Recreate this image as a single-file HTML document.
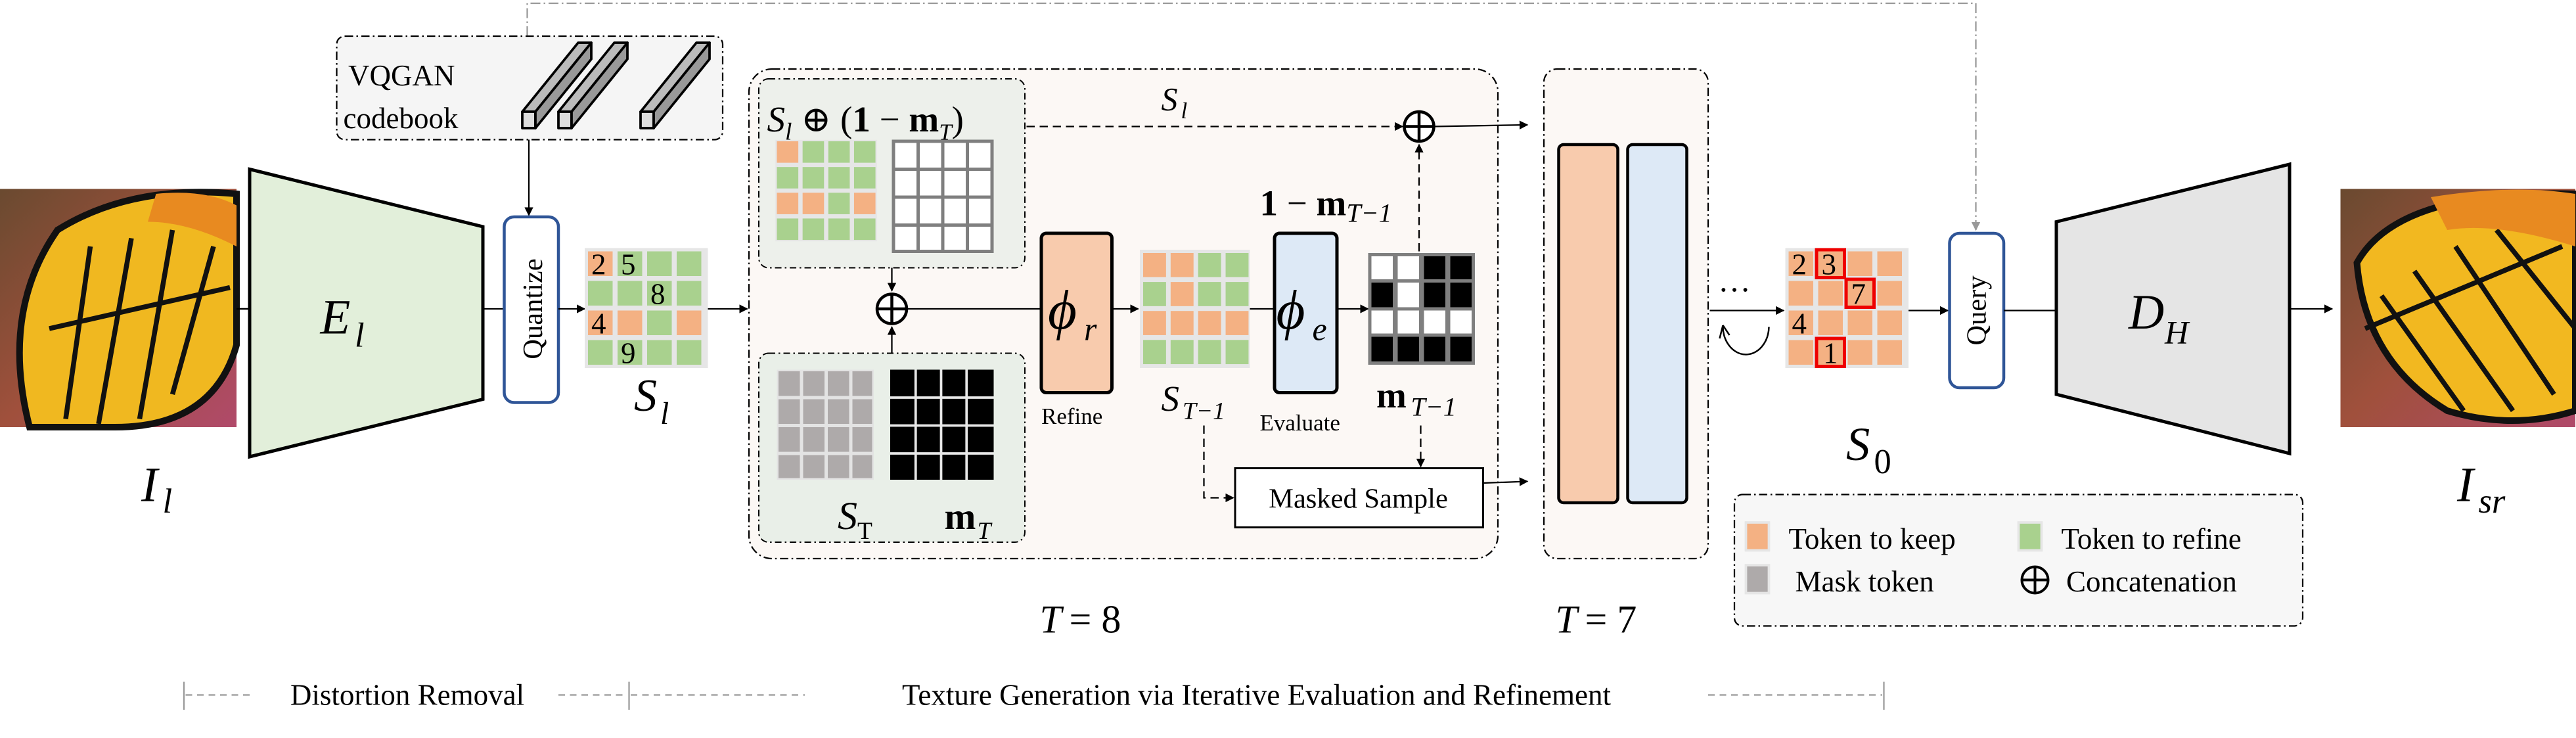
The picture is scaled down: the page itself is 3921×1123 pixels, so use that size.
<!DOCTYPE html>
<html><head><meta charset="utf-8"><style>html,body{margin:0;padding:0;background:#fff}svg{display:block}svg text,svg tspan{font-family:"Liberation Serif","Times New Roman","DejaVu Serif",serif}</style></head>
<body>
<svg width="3921" height="1123" viewBox="0 0 1568.4 449.2" xmlns="http://www.w3.org/2000/svg" style="font-family:'Liberation Serif','Times New Roman',serif">
<defs>
<marker id="ar" viewBox="0 0 10 10" refX="9" refY="5" markerWidth="6" markerHeight="6" orient="auto"><path d="M0,0L10,5L0,10z" fill="#000"/></marker>
<marker id="arg" viewBox="0 0 10 10" refX="9" refY="5" markerWidth="6" markerHeight="6" orient="auto"><path d="M0,0L10,5L0,10z" fill="#999"/></marker>
<g id="o"><rect width="15" height="15" fill="#f4b183"/></g>
<g id="g"><rect width="15" height="15" fill="#a9d18e"/></g>
<linearGradient id="bf" x1="0" y1="0" x2="1" y2="1"><stop offset="0" stop-color="#6a4a30"/><stop offset="0.5" stop-color="#a0503c"/><stop offset="1" stop-color="#b04a6a"/></linearGradient>
</defs>

<path d="M321,22V2H1203V140" fill="none" stroke="#999" stroke-width="0.9" stroke-dasharray="6,2,1,2" marker-end="url(#arg)"/>

<rect x="205" y="22" width="235" height="63" rx="5" fill="#f5f5f5" stroke="#000" stroke-width="0.9" stroke-dasharray="5,2,1,2"/>
<text x="212" y="52" font-size="18">VQGAN</text>
<text x="209" y="78" font-size="18">codebook</text>
<g stroke="#000" stroke-width="1.5" stroke-linejoin="round">
<path d="M318,68l34,-42h8l-34,42z" fill="#bbb"/><rect x="318" y="68" width="8" height="10" fill="#ddd"/><path d="M326,68l34,-42v10l-34,42z" fill="#999"/>
<path d="M340,68l34,-42h8l-34,42z" fill="#bbb"/><rect x="340" y="68" width="8" height="10" fill="#ddd"/><path d="M348,68l34,-42v10l-34,42z" fill="#999"/>
<path d="M390,68l34,-42h8l-34,42z" fill="#bbb"/><rect x="390" y="68" width="8" height="10" fill="#ddd"/><path d="M398,68l34,-42v10l-34,42z" fill="#999"/>
</g>
<line x1="322" y1="85" x2="322" y2="131" stroke="#000" stroke-width="0.9" marker-end="url(#ar)"/>

<g>
<rect x="0" y="115" width="144" height="145" fill="url(#bf)"/>
<path d="M18,260 Q0,190 35,140 Q80,112 144,118 L144,210 Q130,260 70,260z" fill="#f0b820" stroke="#111" stroke-width="4"/>
<path d="M40,255L55,150M60,258L80,145M85,255L105,140M105,240L130,150M30,200L140,175" stroke="#111" stroke-width="3" fill="none"/>
<path d="M95,118 Q125,115 144,125 L144,150 Q115,135 90,135z" fill="#e88a20"/>
</g>
<text x="86" y="305" font-size="30" font-style="italic">I</text><text x="99" y="312" font-size="21" font-style="italic">l</text>
<line x1="144" y1="188" x2="153" y2="188" stroke="#000"/>

<path d="M152,103L294,138V243L152,278z" fill="#e2efda" stroke="#000" stroke-width="2"/>
<text x="195" y="203" font-size="30" font-style="italic">E</text><text x="216" y="211" font-size="21" font-style="italic">l</text>
<line x1="294" y1="188" x2="307" y2="188" stroke="#000" stroke-width="0.9"/>

<rect x="307" y="132" width="33" height="113" rx="6" fill="#fff" stroke="#2f5597" stroke-width="1.8"/>
<text transform="translate(330,188) rotate(-90)" font-size="17" text-anchor="middle">Quantize</text>
<line x1="340" y1="188" x2="356" y2="188" stroke="#000" stroke-width="0.9" marker-end="url(#ar)"/>

<g transform="translate(356,151)">
<rect width="75" height="73" fill="#e6e6e6"/>
<g transform="translate(2,2)">
<use href="#o" x="0" y="0"/><use href="#g" x="18" y="0"/><use href="#g" x="36" y="0"/><use href="#g" x="54" y="0"/>
<use href="#g" x="0" y="18"/><use href="#g" x="18" y="18"/><use href="#g" x="36" y="18"/><use href="#g" x="54" y="18"/>
<use href="#o" x="0" y="36"/><use href="#o" x="18" y="36"/><use href="#g" x="36" y="36"/><use href="#o" x="54" y="36"/>
<use href="#g" x="0" y="54"/><use href="#g" x="18" y="54"/><use href="#g" x="36" y="54"/><use href="#g" x="54" y="54"/>
<g font-size="18"><text x="2" y="14">2</text><text x="20" y="14">5</text><text x="38" y="32">8</text><text x="2" y="50">4</text><text x="20" y="68">9</text></g>
</g></g>
<text x="386" y="250" font-size="28" font-style="italic">S</text><text x="402" y="258" font-size="19" font-style="italic">l</text>
<line x1="431" y1="188" x2="455" y2="188" stroke="#000" stroke-width="0.9" marker-end="url(#ar)"/>

<rect x="456" y="42" width="456" height="298" rx="14" fill="#fcf8f5" stroke="#000" stroke-width="0.9" stroke-dasharray="5,2,1,2"/>
<text x="633" y="385" font-size="24" font-style="italic">T</text><text x="651" y="385" font-size="24"> = 8</text>

<rect x="462" y="48" width="162" height="115" rx="6" fill="#edf0eb" stroke="#000" stroke-width="0.8" stroke-dasharray="4,2,1,2"/>
<text x="467" y="80" font-size="22"><tspan font-style="italic">S</tspan><tspan font-size="15" font-style="italic" dy="5">l</tspan><tspan dy="-5"> ⊕ (</tspan><tspan font-weight="bold">1</tspan> − <tspan font-weight="bold">m</tspan><tspan font-size="14" font-style="italic" dy="5">T</tspan><tspan dy="-5">)</tspan></text>
<g transform="translate(473,86) scale(0.87)">
<rect x="-1" y="-1" width="71" height="71" fill="#e6e6e6"/>
<use href="#o" x="0" y="0"/><use href="#g" x="18" y="0"/><use href="#g" x="36" y="0"/><use href="#g" x="54" y="0"/>
<use href="#g" x="0" y="18"/><use href="#g" x="18" y="18"/><use href="#g" x="36" y="18"/><use href="#g" x="54" y="18"/>
<use href="#o" x="0" y="36"/><use href="#o" x="18" y="36"/><use href="#g" x="36" y="36"/><use href="#o" x="54" y="36"/>
<use href="#g" x="0" y="54"/><use href="#g" x="18" y="54"/><use href="#g" x="36" y="54"/><use href="#g" x="54" y="54"/>
</g>
<g stroke="#7f7f7f" stroke-width="2" fill="#fff">
<rect x="544" y="86" width="60" height="67"/>
<path d="M559,86V153M574,86V153M589,86V153M544,103H604M544,120H604M544,137H604" fill="none"/>
</g>

<rect x="462" y="215" width="162" height="115" rx="6" fill="#e9efe8" stroke="#000" stroke-width="0.8" stroke-dasharray="4,2,1,2"/>
<g fill="#aeaaaa">
<rect x="473" y="225" width="59" height="67" fill="#e3e3e3"/>
<rect x="474" y="226" width="13" height="15"/><rect x="489" y="226" width="13" height="15"/><rect x="504" y="226" width="13" height="15"/><rect x="519" y="226" width="12" height="15"/>
<rect x="474" y="243" width="13" height="15"/><rect x="489" y="243" width="13" height="15"/><rect x="504" y="243" width="13" height="15"/><rect x="519" y="243" width="12" height="15"/>
<rect x="474" y="260" width="13" height="15"/><rect x="489" y="260" width="13" height="15"/><rect x="504" y="260" width="13" height="15"/><rect x="519" y="260" width="12" height="15"/>
<rect x="474" y="277" width="13" height="14"/><rect x="489" y="277" width="13" height="14"/><rect x="504" y="277" width="13" height="14"/><rect x="519" y="277" width="12" height="14"/>
</g>
<rect x="542" y="225" width="63" height="67" fill="#000"/>
<path d="M557.5,225V292M573,225V292M588.5,225V292M542,242H605M542,259H605M542,276H605" stroke="#e8e8e8" stroke-width="1.5"/>
<text x="510" y="322" font-size="24" font-style="italic">S</text><text x="522" y="328" font-size="15">T</text>
<text x="575" y="322" font-size="23" font-weight="bold">m</text><text x="595" y="328" font-size="15" font-style="italic">T</text>

<line x1="543" y1="163" x2="543" y2="177" stroke="#000" stroke-width="0.9" marker-end="url(#ar)"/>
<line x1="543" y1="215" x2="543" y2="199" stroke="#000" stroke-width="0.9" marker-end="url(#ar)"/>
<circle cx="543" cy="188" r="9" fill="#fff" stroke="#000" stroke-width="1.8"/>
<path d="M534,188H552M543,179V197" stroke="#000" stroke-width="1.8"/>
<line x1="552" y1="188" x2="634" y2="188" stroke="#000" stroke-width="0.9"/>

<rect x="634" y="142" width="43" height="97" rx="3" fill="#f8cbad" stroke="#000" stroke-width="2"/>
<text x="638" y="200" font-size="34" font-style="italic">ϕ</text><text x="660" y="207" font-size="20" font-style="italic">r</text>
<text x="634" y="258" font-size="14">Refine</text>
<line x1="677" y1="188" x2="693" y2="188" stroke="#000" stroke-width="0.9" marker-end="url(#ar)"/>

<g transform="translate(694,152)">
<rect width="67" height="72" fill="#e6e6e6"/>
<g transform="translate(2,2) scale(0.93,0.98)">
<use href="#o" x="0" y="0"/><use href="#o" x="18" y="0"/><use href="#g" x="36" y="0"/><use href="#g" x="54" y="0"/>
<use href="#g" x="0" y="18"/><use href="#o" x="18" y="18"/><use href="#g" x="36" y="18"/><use href="#g" x="54" y="18"/>
<use href="#o" x="0" y="36"/><use href="#o" x="18" y="36"/><use href="#o" x="36" y="36"/><use href="#o" x="54" y="36"/>
<use href="#g" x="0" y="54"/><use href="#g" x="18" y="54"/><use href="#g" x="36" y="54"/><use href="#g" x="54" y="54"/>
</g></g>
<text x="707" y="250" font-size="22" font-style="italic">S</text><text x="720" y="255" font-size="15" font-style="italic">T−1</text>
<line x1="761" y1="188" x2="776" y2="188" stroke="#000" stroke-width="0.9"/>

<rect x="776" y="142" width="38" height="97" rx="3" fill="#dde9f6" stroke="#000" stroke-width="2"/>
<text x="777" y="200" font-size="34" font-style="italic">ϕ</text><text x="799" y="207" font-size="20" font-style="italic">e</text>
<text x="767" y="262" font-size="14">Evaluate</text>
<line x1="814" y1="188" x2="833" y2="188" stroke="#000" stroke-width="0.9" marker-end="url(#ar)"/>

<rect x="833" y="154" width="65" height="68" fill="#7f7f7f"/>
<g fill="#fff">
<rect x="835" y="156" width="13" height="14"/><rect x="851" y="156" width="13" height="14"/><rect x="867" y="156" width="13" height="14" fill="#000"/><rect x="883" y="156" width="13" height="14" fill="#000"/>
<rect x="835" y="172" width="13" height="15" fill="#000"/><rect x="851" y="172" width="13" height="15"/><rect x="867" y="172" width="13" height="15" fill="#000"/><rect x="883" y="172" width="13" height="15" fill="#000"/>
<rect x="835" y="189" width="13" height="14"/><rect x="851" y="189" width="13" height="14"/><rect x="867" y="189" width="13" height="14"/><rect x="883" y="189" width="13" height="14"/>
<rect x="835" y="205" width="13" height="15" fill="#000"/><rect x="851" y="205" width="13" height="15" fill="#000"/><rect x="867" y="205" width="13" height="15" fill="#000"/><rect x="883" y="205" width="13" height="15" fill="#000"/>
</g>
<text x="767" y="131" font-size="22"><tspan font-weight="bold">1</tspan> − <tspan font-weight="bold">m</tspan><tspan font-size="16" font-style="italic" dy="4">T−1</tspan></text>
<text x="838" y="248" font-size="22" font-weight="bold">m</text><text x="859" y="253" font-size="16" font-style="italic">T−1</text>

<text x="707" y="67" font-size="20" font-style="italic">S</text><text x="719" y="72" font-size="14" font-style="italic">l</text>
<line x1="625" y1="77" x2="854" y2="77" stroke="#000" stroke-width="0.9" stroke-dasharray="5,3" marker-end="url(#ar)"/>
<line x1="864" y1="153" x2="864" y2="88" stroke="#000" stroke-width="0.9" stroke-dasharray="5,3" marker-end="url(#ar)"/>
<circle cx="864" cy="77" r="9" fill="#fff" stroke="#000" stroke-width="1.8"/>
<path d="M855,77H873M864,68V86" stroke="#000" stroke-width="1.8"/>
<line x1="873" y1="77" x2="930" y2="76" stroke="#000" stroke-width="0.9" marker-end="url(#ar)"/>

<line x1="865" y1="259" x2="865" y2="284" stroke="#000" stroke-width="0.9" stroke-dasharray="5,3" marker-end="url(#ar)"/>
<path d="M733,259V303H751" fill="none" stroke="#000" stroke-width="0.9" stroke-dasharray="5,3" marker-end="url(#ar)"/>
<rect x="752" y="285" width="151" height="36" fill="#fff" stroke="#000" stroke-width="1.2"/>
<text x="827" y="309" font-size="17" text-anchor="middle">Masked Sample</text>
<line x1="903" y1="294" x2="930" y2="293" stroke="#000" stroke-width="0.9" marker-end="url(#ar)"/>

<rect x="940" y="42" width="100" height="298" rx="8" fill="#fcf8f5" stroke="#000" stroke-width="0.9" stroke-dasharray="5,2,1,2"/>
<rect x="949" y="88" width="36" height="218" rx="3" fill="#f8cbad" stroke="#000" stroke-width="1.8"/>
<rect x="991" y="88" width="36" height="218" rx="3" fill="#dde9f6" stroke="#000" stroke-width="1.8"/>
<text x="947" y="385" font-size="24" font-style="italic">T</text><text x="965" y="385" font-size="24"> = 7</text>

<text x="1046" y="183" font-size="20">···</text>
<line x1="1041" y1="189" x2="1086" y2="189" stroke="#000" stroke-width="0.9" marker-end="url(#ar)"/>
<path d="M1049,198 A13,16 0 1 0 1077,199" fill="none" stroke="#000" stroke-width="1"/>
<path d="M1049,198 l-2,8 M1049,198 l4,6" stroke="#000" stroke-width="1"/>

<g transform="translate(1087,151)">
<rect width="75" height="73" fill="#e6e6e6"/>
<g transform="translate(2,2)">
<use href="#o" x="0" y="0"/><use href="#o" x="18" y="0"/><use href="#o" x="36" y="0"/><use href="#o" x="54" y="0"/>
<use href="#o" x="0" y="18"/><use href="#o" x="18" y="18"/><use href="#o" x="36" y="18"/><use href="#o" x="54" y="18"/>
<use href="#o" x="0" y="36"/><use href="#o" x="18" y="36"/><use href="#o" x="36" y="36"/><use href="#o" x="54" y="36"/>
<use href="#o" x="0" y="54"/><use href="#o" x="18" y="54"/><use href="#o" x="36" y="54"/><use href="#o" x="54" y="54"/>
<g fill="none" stroke="#e00" stroke-width="2"><rect x="17" y="-1" width="17" height="17"/><rect x="35" y="17" width="17" height="17"/><rect x="17" y="53" width="17" height="17"/></g>
<g font-size="18"><text x="2" y="14">2</text><text x="20" y="14">3</text><text x="38" y="32">7</text><text x="2" y="50">4</text><text x="21" y="68">1</text></g>
</g></g>
<text x="1124" y="280" font-size="29" font-style="italic">S</text><text x="1141" y="288" font-size="21">0</text>
<line x1="1162" y1="189" x2="1186" y2="189" stroke="#000" stroke-width="0.9" marker-end="url(#ar)"/>

<rect x="1187" y="142" width="33" height="94" rx="6" fill="#fff" stroke="#2f5597" stroke-width="1.8"/>
<text transform="translate(1209,189) rotate(-90)" font-size="17" text-anchor="middle">Query</text>
<line x1="1220" y1="189" x2="1252" y2="189" stroke="#000" stroke-width="0.9"/>

<path d="M1252,135L1394,100V276L1252,240z" fill="#e5e5e5" stroke="#000" stroke-width="2"/>
<text x="1296" y="200" font-size="30" font-style="italic">D</text><text x="1318" y="209" font-size="20" font-style="italic">H</text>
<line x1="1394" y1="188" x2="1420" y2="188" stroke="#000" stroke-width="0.9" marker-end="url(#ar)"/>

<g>
<rect x="1425" y="115" width="143" height="145" fill="url(#bf)"/>
<path d="M1435,160 Q1460,115 1568,118 L1568,250 Q1530,262 1490,250 Q1440,220 1435,160z" fill="#f2b820" stroke="#111" stroke-width="4"/>
<path d="M1450,180L1500,250M1470,165L1530,250M1495,150L1555,240M1520,140L1568,200M1440,200L1560,150" stroke="#111" stroke-width="3" fill="none"/>
<path d="M1480,120 Q1530,112 1568,118 L1568,150 Q1520,135 1490,140z" fill="#e88a20"/>
</g>
<text x="1496" y="305" font-size="30" font-style="italic">I</text><text x="1509" y="312" font-size="21" font-style="italic">sr</text>

<rect x="1056" y="301" width="346" height="80" rx="5" fill="#f7f7f7" stroke="#000" stroke-width="0.9" stroke-dasharray="5,2,1,2"/>
<rect x="1063" y="318" width="14" height="17" fill="#f4b183" stroke="#e6e6e6" stroke-width="1.5"/>
<text x="1089" y="334" font-size="18">Token to keep</text>
<rect x="1229" y="318" width="14" height="17" fill="#a9d18e" stroke="#e6e6e6" stroke-width="1.5"/>
<text x="1255" y="334" font-size="18">Token to refine</text>
<rect x="1063" y="344" width="14" height="17" fill="#aeaaaa" stroke="#e6e6e6" stroke-width="1.5"/>
<text x="1093" y="360" font-size="18">Mask token</text>
<circle cx="1239" cy="353" r="8" fill="none" stroke="#000" stroke-width="1.6"/>
<path d="M1231,353H1247M1239,345V361" stroke="#000" stroke-width="1.6"/>
<text x="1258" y="360" font-size="18">Concatenation</text>

<g stroke="#999" stroke-width="0.9" fill="none">
<line x1="112" y1="415" x2="112" y2="432"/><line x1="383" y1="415" x2="383" y2="432"/><line x1="1147" y1="415" x2="1147" y2="432"/>
<line x1="113" y1="423" x2="155" y2="423" stroke-dasharray="4,3"/>
<line x1="340" y1="423" x2="382" y2="423" stroke-dasharray="4,3"/>
<line x1="384" y1="423" x2="490" y2="423" stroke-dasharray="4,3"/>
<line x1="1040" y1="423" x2="1146" y2="423" stroke-dasharray="4,3"/>
</g>
<text x="248" y="429" font-size="18" text-anchor="middle">Distortion Removal</text>
<text x="765" y="429" font-size="18" text-anchor="middle">Texture Generation via Iterative Evaluation and Refinement</text>
</svg>
</body></html>
